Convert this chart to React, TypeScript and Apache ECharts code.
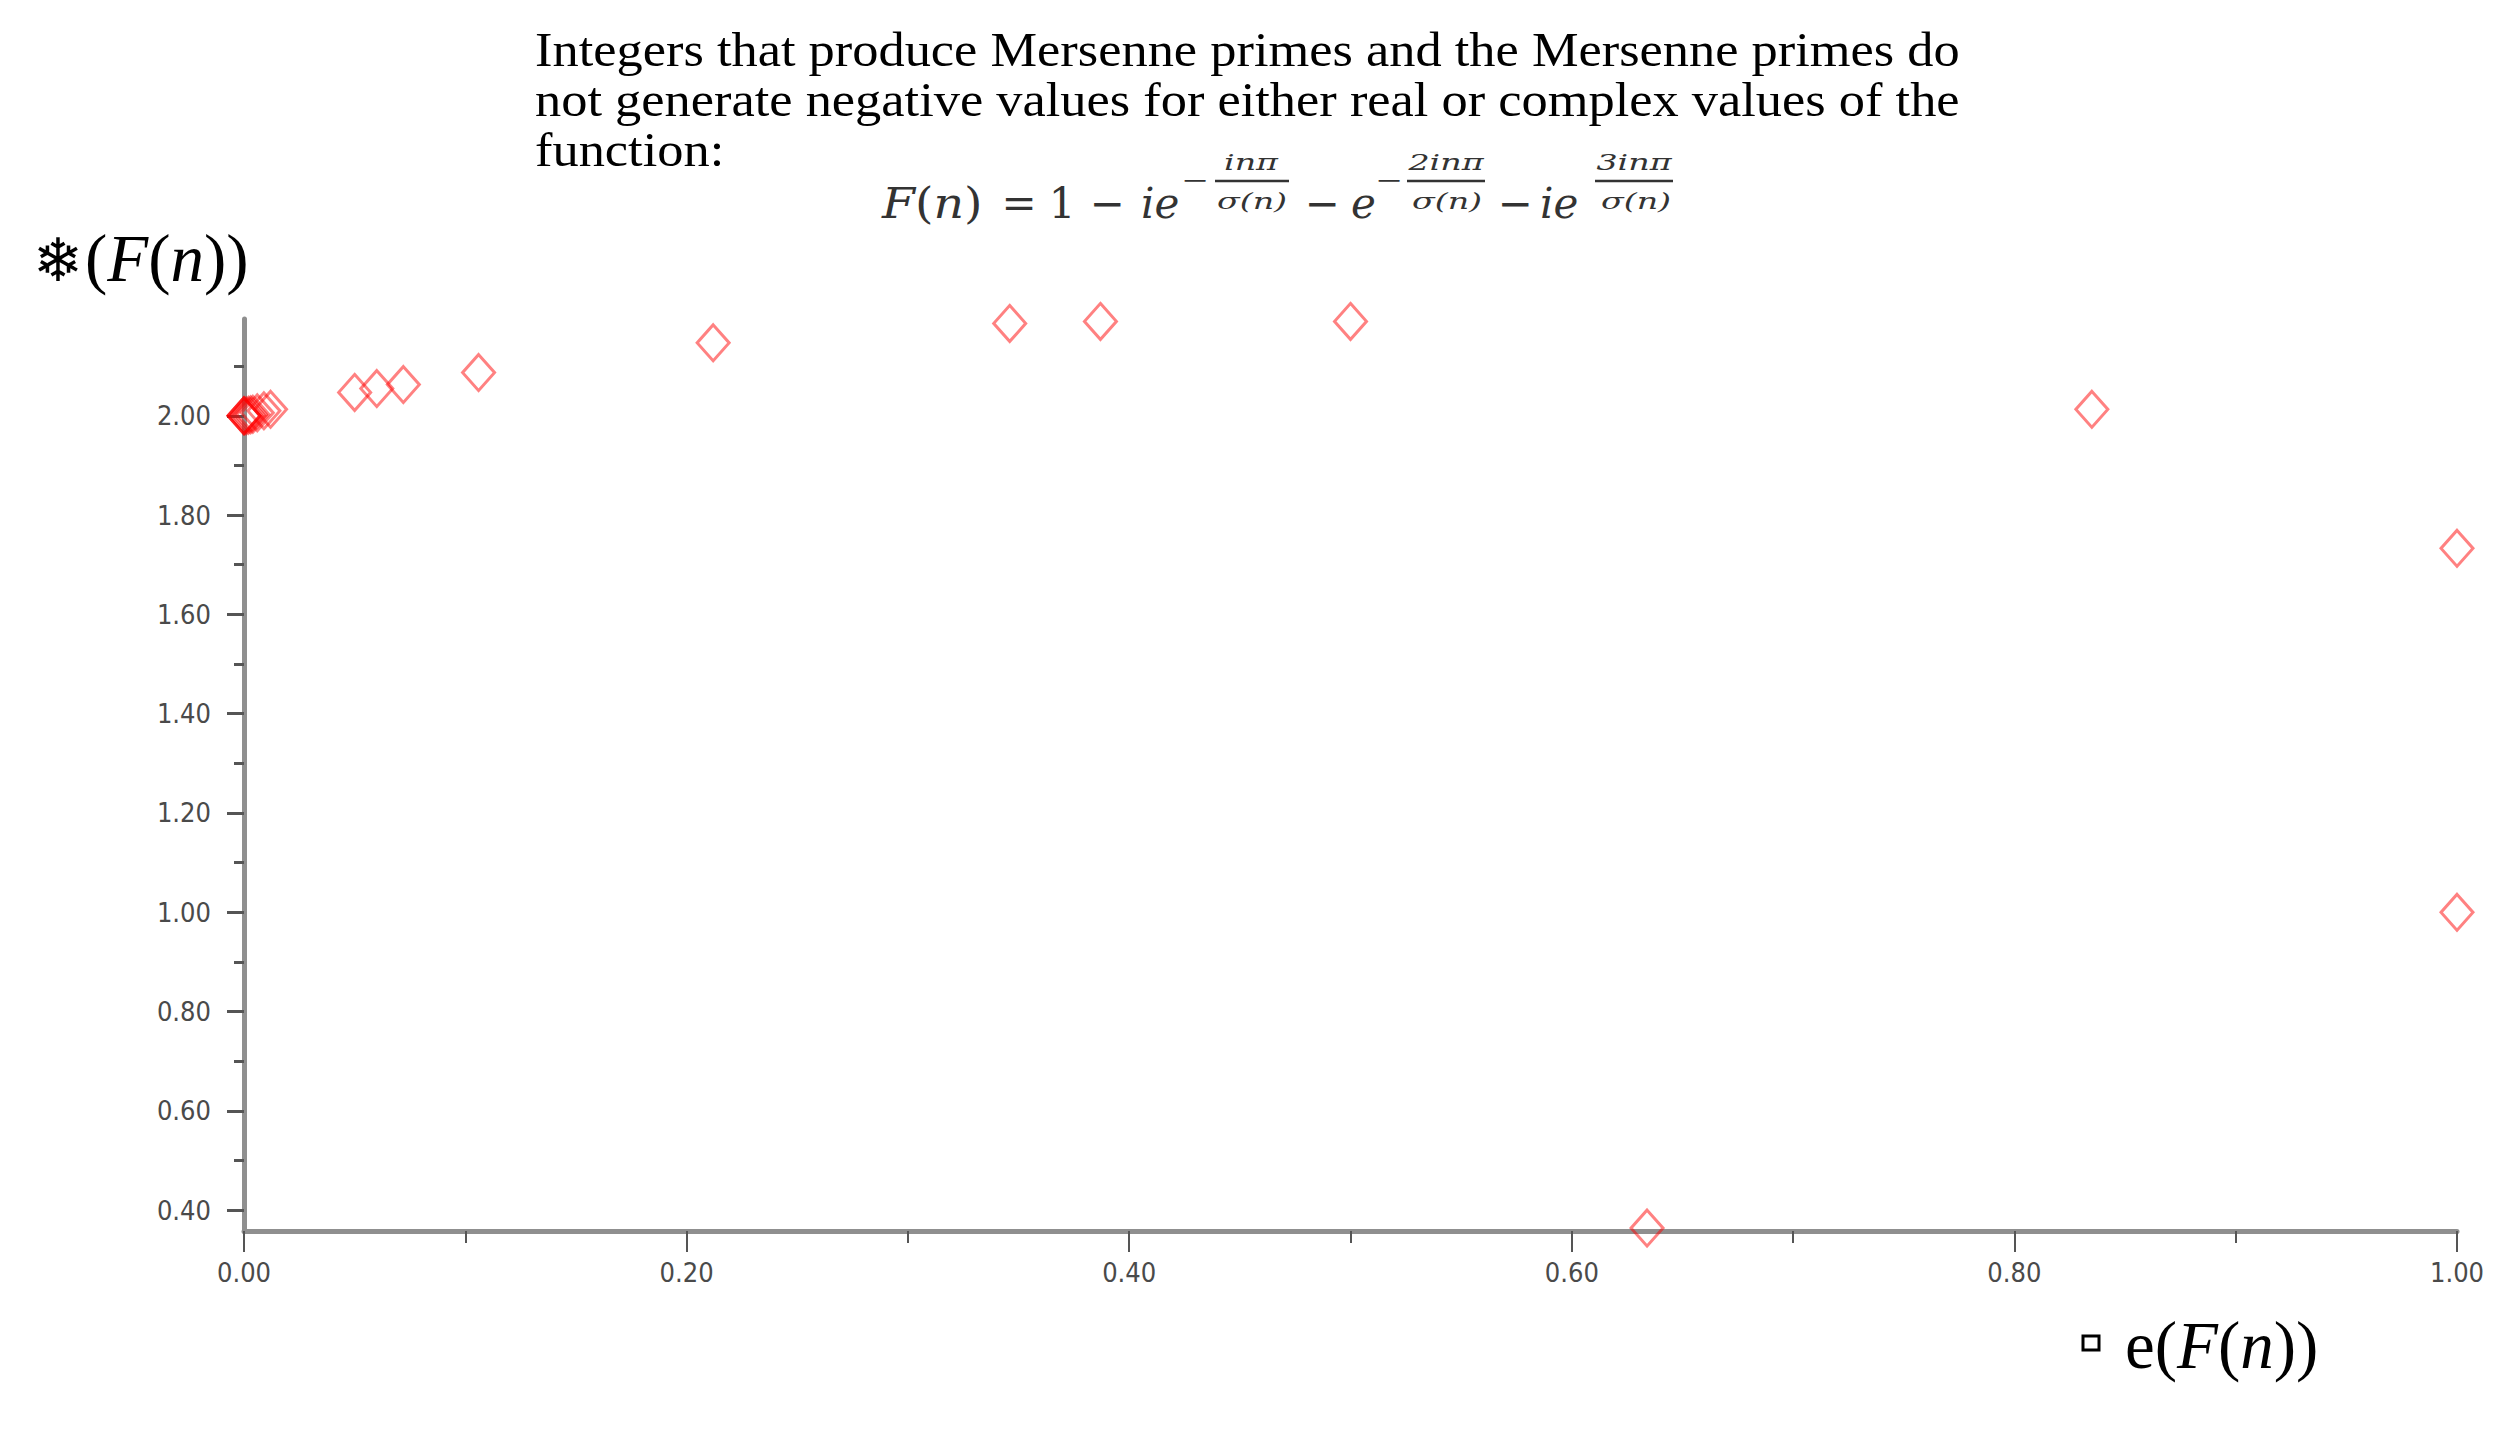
import React, { useEffect, useRef } from "react";
import * as echarts from "echarts";

// Data: real part (x) and imaginary part (y) of F(n)
const realParts = [0, 0, 0, 0.001, 0.002, 0.003, 0.004, 0.006, 0.009, 0.012, 0.05, 0.06, 0.072, 0.106, 0.212, 0.346, 0.387, 0.5, 0.835, 1.0, 1.0, 0.634];
const imagParts = [2.0, 2.0, 2.0, 2.0, 2.001, 2.002, 2.003, 2.006, 2.01, 2.013, 2.047, 2.055, 2.063, 2.087, 2.147, 2.186, 2.19, 2.19, 2.013, 1.733, 1.0, 0.364];

const yMajorTicks = [0.4, 0.6, 0.8, 1.0, 1.2, 1.4, 1.6, 1.8, 2.0];
const yMinorTicks = [0.5, 0.7, 0.9, 1.1, 1.3, 1.5, 1.7, 1.9, 2.1];

const titleLines = [
  "Integers that produce Mersenne primes and the Mersenne primes do",
  "not generate negative values for either real or complex values of the",
  "function:",
];

const TICK_FONT = '"Liberation Sans Narrow", "DejaVu Sans Condensed", "Liberation Sans", sans-serif';
const SERIF = '"Liberation Serif", "Times New Roman", serif';
const MATH = '"DejaVu Serif", "Liberation Serif", serif';

export default function App() {
  const ref = useRef<HTMLDivElement>(null);
  useEffect(() => {
    if (!ref.current) return;
    const chart = echarts.init(ref.current, undefined, { renderer: "svg" });
    const points = realParts.map((x, i) => [x, imagParts[i]]);
    const fmlColor = "#333";
    const mainY = 195;
    const main = (text: string, x: number, italic: boolean, align = "left") => ({
      type: "text",
      x,
      y: mainY,
      style: {
        text,
        fill: fmlColor,
        fontSize: 42,
        fontFamily: MATH,
        fontStyle: italic ? "italic" : "normal",
        align,
        verticalAlign: "middle",
      },
    });
    const small = (text: string, x: number, y: number, italic = true) => ({
      type: "text",
      x,
      y,
      scaleX: 1.45,
      style: {
        text,
        fill: fmlColor,
        fontSize: 23,
        fontFamily: MATH,
        fontStyle: italic ? "italic" : "normal",
        align: "center",
        verticalAlign: "middle",
      },
    });
    const bar = (x1: number, x2: number, y: number) => ({
      type: "line",
      shape: { x1, y1: y, x2, y2: y },
      style: { stroke: fmlColor, lineWidth: 2.5 },
    });
    const option: any = {
      animation: false,
      backgroundColor: "#ffffff",
      grid: { left: 236, right: 38, top: 311, bottom: 203, containLabel: false, outerBoundsMode: "none" },
      xAxis: {
        type: "value",
        min: 0,
        max: 1,
        interval: 0.2,
        axisLine: { show: true, lineStyle: { color: "#8f8f8f", width: 5 } },
        axisTick: { show: true, inside: false, length: 21, lineStyle: { color: "#555", width: 2 } },
        minorTick: { show: true, splitNumber: 2, length: 12, lineStyle: { color: "#555", width: 2 } },
        splitLine: { show: false },
        axisLabel: {
          margin: 28,
          fontFamily: TICK_FONT,
          fontSize: 27,
          color: "#4a4a4a",
          formatter: (v: number) => v.toFixed(2),
        },
      },
      yAxis: [
        {
          type: "value",
          min: 0.358,
          max: 2.195,
          position: "left",
          axisLine: { show: true, onZero: false, lineStyle: { color: "#8f8f8f", width: 5 } },
          axisTick: { show: true, inside: false, length: 17, customValues: yMajorTicks, lineStyle: { color: "#555", width: 3 } },
          splitLine: { show: false },
          axisLabel: {
            margin: 33,
            customValues: yMajorTicks,
            fontFamily: TICK_FONT,
            fontSize: 27,
            color: "#4a4a4a",
            formatter: (v: number) => v.toFixed(2),
          },
        },
        {
          type: "value",
          min: 0.358,
          max: 2.195,
          position: "left",
          axisLine: { show: false },
          axisTick: { show: true, inside: false, length: 10, customValues: yMinorTicks, lineStyle: { color: "#555", width: 3 } },
          splitLine: { show: false },
          axisLabel: { show: false },
        },
      ],
      series: [
        {
          type: "scatter",
          data: points,
          symbol: "diamond",
          symbolSize: [32, 36],
          clip: false,
          itemStyle: { color: "rgba(0,0,0,0)", borderColor: "rgba(255,0,0,0.62)", borderWidth: 3 },
        },
      ],
      graphic: [
        ...titleLines.map((t, i) => ({
          type: "text",
          x: 527,
          y: 42 + i * 50,
          scaleX: 1.092,
          style: { text: t, fill: "#000", fontSize: 48, fontFamily: SERIF, align: "left", verticalAlign: "middle" },
        })),
        // Formula: F(n) = 1 − i e^{−inπ/σ(n)} − e^{−2inπ/σ(n)} − i e^{3inπ/σ(n)}
        {
          type: "text",
          x: 874,
          y: mainY,
          scaleX: 1.13,
          style: {
            text: "{i|F}{r|(}{i|n}{r|)}",
            fill: fmlColor,
            fontSize: 42,
            fontFamily: MATH,
            verticalAlign: "middle",
            rich: {
              i: { fontStyle: "italic", fontSize: 42, fontFamily: MATH, fill: fmlColor },
              r: { fontStyle: "normal", fontSize: 42, fontFamily: MATH, fill: fmlColor },
            },
          },
        },
        main("=", 1011, false, "center"),
        main("1", 1054, false, "center"),
        main("−", 1099, false, "center"),
        main("ie", 1133, true),
        small("−", 1187, 172, false),
        small("inπ", 1243, 154),
        bar(1207, 1281, 173),
        small("σ(n)", 1244, 193),
        main("−", 1314, false, "center"),
        main("e", 1343, true),
        small("−", 1381, 172, false),
        small("2inπ", 1438, 154),
        bar(1399, 1477, 173),
        small("σ(n)", 1439, 193),
        main("−", 1507, false, "center"),
        main("ie", 1532, true),
        small("3inπ", 1626, 154),
        bar(1587, 1665, 173),
        small("σ(n)", 1628, 193),
        // Y axis title
        {
          type: "text",
          x: 50,
          y: 252,
          style: { text: "❄", fill: "#000", fontSize: 60, fontFamily: '"DejaVu Sans", sans-serif', align: "center", verticalAlign: "middle" },
        },
        {
          type: "text",
          x: 77,
          y: 250,
          style: {
            text: "{r|(}{i|F}{r|(}{i|n}{r|))}",
            fill: "#000",
            fontSize: 67,
            fontFamily: SERIF,
            verticalAlign: "middle",
            rich: {
              i: { fontStyle: "italic", fontSize: 67, fontFamily: SERIF, fill: "#000" },
              r: { fontStyle: "normal", fontSize: 67, fontFamily: SERIF, fill: "#000" },
            },
          },
        },
        // X axis title
        {
          type: "rect",
          shape: { x: 2075, y: 1328, width: 16, height: 14 },
          style: { fill: "#fff", stroke: "#000", lineWidth: 3 },
        },
        {
          type: "text",
          x: 2117,
          y: 1337,
          style: {
            text: "{r|e(}{i|F}{r|(}{i|n}{r|))}",
            fill: "#000",
            fontSize: 67,
            fontFamily: SERIF,
            verticalAlign: "middle",
            rich: {
              i: { fontStyle: "italic", fontSize: 67, fontFamily: SERIF, fill: "#000" },
              r: { fontStyle: "normal", fontSize: 67, fontFamily: SERIF, fill: "#000" },
            },
          },
        },
      ],
    };
    chart.setOption(option);
    return () => chart.dispose();
  }, []);
  return <div ref={ref} style={{ width: 2487, height: 1426 }} />;
}
